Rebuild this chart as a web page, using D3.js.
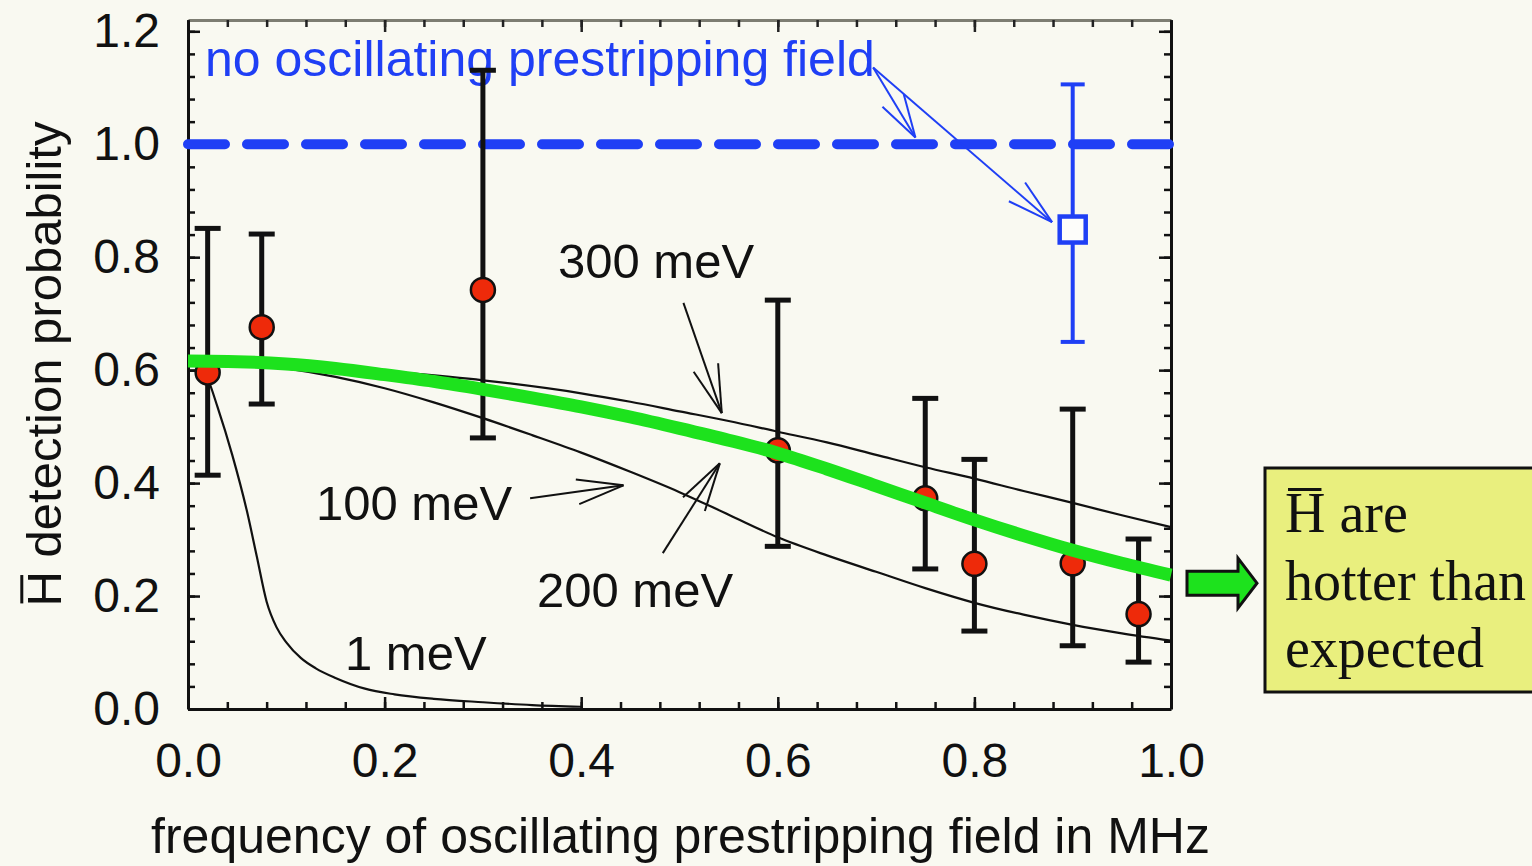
<!DOCTYPE html>
<html>
<head>
<meta charset="utf-8">
<script src="https://cdn.jsdelivr.net/npm/d3@7"></script>
<style>
  html, body { margin: 0; padding: 0; background: #f9f9f1; }
  svg { display: block; }
</style>
</head>
<body>
<svg id="chart" width="1532" height="866"></svg>
<script>
// ---- measured detection probability vs. prestripping frequency ----
const freqMHz  = [0.02, 0.075, 0.30, 0.60, 0.75, 0.80, 0.90, 0.967];
const prob     = [0.596, 0.676, 0.742, 0.458, 0.373, 0.257, 0.258, 0.168];
const probLow  = [0.414, 0.540, 0.480, 0.288, 0.248, 0.138, 0.112, 0.083];
const probHigh = [0.851, 0.841, 1.131, 0.724, 0.550, 0.442, 0.531, 0.301];

// ---- reference point without oscillating field ----
const refFreq = [0.90];
const refProb = [0.849];
const refLow  = [0.650];
const refHigh = [1.106];
const noFieldLevel = 1.0;

// ---- model curves for several antihydrogen energies ----
const x1meV = [0, 0.01, 0.02, 0.03, 0.045, 0.06, 0.07, 0.08, 0.09, 0.10, 0.115, 0.13, 0.15, 0.18, 0.21, 0.25, 0.30, 0.35, 0.40];
const y1meV = [0.615, 0.61, 0.585, 0.535, 0.45, 0.35, 0.27, 0.19, 0.145, 0.118, 0.09, 0.072, 0.055, 0.036, 0.026, 0.018, 0.012, 0.007, 0.004];

const x100meV = [0, 0.05, 0.10, 0.15, 0.20, 0.25, 0.30, 0.35, 0.40, 0.45, 0.50, 0.55, 0.60, 0.65, 0.70, 0.75, 0.80, 0.85, 0.90, 0.95, 1.0];
const y100meV = [0.616, 0.613, 0.603, 0.588, 0.568, 0.543, 0.515, 0.485, 0.454, 0.420, 0.384, 0.344, 0.304, 0.272, 0.243, 0.214, 0.188, 0.167, 0.149, 0.134, 0.121];

const x300meV = [0, 0.10, 0.20, 0.30, 0.40, 0.45, 0.50, 0.55, 0.60, 0.65, 0.70, 0.75, 0.80, 0.85, 0.90, 0.95, 1.0];
const y300meV = [0.616, 0.612, 0.598, 0.582, 0.559, 0.544, 0.527, 0.510, 0.491, 0.472, 0.450, 0.428, 0.408, 0.386, 0.365, 0.343, 0.322];

const x200meV = [0, 0.05, 0.10, 0.15, 0.20, 0.25, 0.30, 0.35, 0.40, 0.45, 0.50, 0.55, 0.60, 0.65, 0.70, 0.75, 0.80, 0.85, 0.90, 0.95, 1.0];
const y200meV = [0.616, 0.615, 0.611, 0.603, 0.592, 0.580, 0.566, 0.551, 0.535, 0.517, 0.497, 0.476, 0.453, 0.425, 0.395, 0.365, 0.335, 0.307, 0.281, 0.258, 0.237];

// ---- axis ticks ----
const xTicks = [0, 0.2, 0.4, 0.6, 0.8, 1.0];
const yTicks = [0, 0.2, 0.4, 0.6, 0.8, 1.0, 1.2];
const xMinor = d3.range(0, 1.0001, 0.04);
const yMinor = d3.range(0, 1.2201, 0.04);

const BLUE = "#1f3ff5";
const GREEN = "#1de21d";
const INK = "#111";
const SANS = "'Liberation Sans', Arial, sans-serif";
const SERIF = "'Liberation Serif', 'Times New Roman', serif";
const TICK_FS = 48, TITLE_FS = 50, LABEL_FS = 49;

const svg = d3.select("#chart");
const x = d3.scaleLinear().domain([0, 1]).range([188, 1171]);
const y = d3.scaleLinear().domain([0, 1.22]).range([709, 20]);

// ---- frame and ticks (all ticks point inward) ----
function styleAxis(g, color, width) {
  g.select(".domain").attr("stroke", color).attr("stroke-width", width);
  g.selectAll(".tick line").attr("stroke", INK).attr("stroke-width", 2.5);
  g.attr("font-family", SANS).attr("font-size", TICK_FS);
  g.selectAll("g").attr("font-family", SANS).attr("font-size", TICK_FS);
  g.selectAll(".tick text").attr("fill", INK);
}

const gTop = svg.append("g").attr("transform", `translate(0,${y(1.22)})`);
gTop.call(d3.axisTop(x).tickValues(xMinor).tickSize(-7).tickSizeOuter(0).tickFormat(""));
gTop.append("g").call(d3.axisTop(x).tickValues(xTicks).tickSize(-12).tickSizeOuter(0).tickFormat(""))
   .select(".domain").remove();
styleAxis(gTop, "#7d7d72", 3);
gTop.selectAll(".tick line").attr("stroke", "#222");

const gRight = svg.append("g").attr("transform", `translate(${x(1)},0)`);
gRight.call(d3.axisRight(y).tickValues(yMinor).tickSize(-7).tickSizeOuter(0).tickFormat(""));
gRight.append("g").call(d3.axisRight(y).tickValues(yTicks).tickSize(-12).tickSizeOuter(0).tickFormat(""))
     .select(".domain").remove();
styleAxis(gRight, INK, 3);

const gLeft = svg.append("g").attr("transform", `translate(${x(0)},0)`);
gLeft.call(d3.axisLeft(y).tickValues(yMinor).tickSize(-7).tickSizeOuter(0).tickFormat(""));
gLeft.append("g").call(d3.axisLeft(y).tickValues(yTicks).tickSize(-12).tickSizeOuter(0)
    .tickPadding(28).tickFormat(d3.format(".1f")))
    .select(".domain").remove();
styleAxis(gLeft, INK, 3);

const gBottom = svg.append("g").attr("transform", `translate(0,${y(0)})`);
gBottom.call(d3.axisBottom(x).tickValues(xMinor).tickSize(-7).tickSizeOuter(0).tickFormat(""));
gBottom.append("g").call(d3.axisBottom(x).tickValues(xTicks).tickSize(-12).tickSizeOuter(0)
    .tickPadding(34).tickFormat(d3.format(".1f")))
    .select(".domain").remove();
styleAxis(gBottom, INK, 3);

// ---- axis titles ----
svg.append("text")
  .attr("x", (x(0) + x(1)) / 2 + 1).attr("y", 853)
  .attr("text-anchor", "middle")
  .attr("font-family", SANS).attr("font-size", TITLE_FS).attr("fill", INK)
  .text("frequency of oscillating prestripping field in MHz");

const yTitleG = svg.append("g").attr("transform", "translate(61,364) rotate(-90)");
const yTitle = yTitleG.append("text")
  .attr("text-anchor", "middle")
  .attr("font-family", SANS).attr("font-size", LABEL_FS).attr("fill", INK)
  .text("H detection probability");
function overlineFirstChar(textSel, parent, gap, width) {
  const ext = textSel.node().getExtentOfChar(0);
  const capTop = ext.y + ext.height * 0.2;
  parent.append("line")
    .attr("x1", ext.x + 3).attr("x2", ext.x + ext.width - 4)
    .attr("y1", capTop - gap).attr("y2", capTop - gap)
    .attr("stroke", INK).attr("stroke-width", width);
}
overlineFirstChar(yTitle, yTitleG, 6, 3);

// ---- "no oscillating field" level ----
svg.append("line")
  .attr("x1", x(0)).attr("x2", x(1))
  .attr("y1", y(noFieldLevel)).attr("y2", y(noFieldLevel))
  .attr("stroke", BLUE).attr("stroke-width", 10)
  .attr("stroke-dasharray", "37,22").attr("stroke-linecap", "round");

svg.append("text")
  .attr("x", 205).attr("y", 76)
  .attr("font-family", SANS).attr("font-size", TITLE_FS).attr("fill", BLUE)
  .text("no oscillating prestripping field");

// ---- thin model curves ----
const line = d3.line().x(d => x(d[0])).y(d => y(d[1])).curve(d3.curveMonotoneX);
const zip = (xs, ys) => xs.map((v, i) => [v, ys[i]]);
[[x1meV, y1meV], [x100meV, y100meV], [x300meV, y300meV]].forEach(([xs, ys]) => {
  svg.append("path").datum(zip(xs, ys)).attr("d", line)
    .attr("fill", "none").attr("stroke", INK).attr("stroke-width", 2.2);
});

// ---- measured points with error bars ----
const pts = freqMHz.map((f, i) => ({ f, p: prob[i], lo: probLow[i], hi: probHigh[i] }));
const bars = svg.append("g").attr("stroke", INK).attr("stroke-width", 5);
pts.forEach(d => {
  bars.append("line").attr("x1", x(d.f)).attr("x2", x(d.f)).attr("y1", y(d.lo)).attr("y2", y(d.hi));
  bars.append("line").attr("x1", x(d.f) - 13).attr("x2", x(d.f) + 13).attr("y1", y(d.lo)).attr("y2", y(d.lo));
  bars.append("line").attr("x1", x(d.f) - 13).attr("x2", x(d.f) + 13).attr("y1", y(d.hi)).attr("y2", y(d.hi));
});
svg.append("g").selectAll("circle").data(pts).join("circle")
  .attr("cx", d => x(d.f)).attr("cy", d => y(d.p)).attr("r", 12)
  .attr("fill", "#ee2a0a").attr("stroke", INK).attr("stroke-width", 2.5);

// reference point (open square)
const refs = refFreq.map((f, i) => ({ f, p: refProb[i], lo: refLow[i], hi: refHigh[i] }));
const rbars = svg.append("g").attr("stroke", BLUE).attr("stroke-width", 4);
refs.forEach(d => {
  rbars.append("line").attr("x1", x(d.f)).attr("x2", x(d.f)).attr("y1", y(d.lo)).attr("y2", y(d.hi));
  rbars.append("line").attr("x1", x(d.f) - 12).attr("x2", x(d.f) + 12).attr("y1", y(d.lo)).attr("y2", y(d.lo));
  rbars.append("line").attr("x1", x(d.f) - 12).attr("x2", x(d.f) + 12).attr("y1", y(d.hi)).attr("y2", y(d.hi));
  svg.append("rect").attr("x", x(d.f) - 13).attr("y", y(d.p) - 13).attr("width", 26).attr("height", 26)
    .attr("fill", "#fdfdfa").attr("stroke", BLUE).attr("stroke-width", 4.5);
});

// ---- best-matching model (200 meV), drawn thick ----
svg.append("path").datum(zip(x200meV, y200meV)).attr("d", line)
  .attr("fill", "none").attr("stroke", GREEN).attr("stroke-width", 13);

// ---- labels and pointer arrows ----
function arrow(from, to, color, barb, spread) {
  const x0 = x(from[0]), y0 = y(from[1]), x1 = x(to[0]), y1 = y(to[1]);
  const ang = Math.atan2(y0 - y1, x0 - x1);
  const g = svg.append("g").attr("stroke", color).attr("stroke-width", 2).attr("fill", "none");
  g.append("line").attr("x1", x0).attr("y1", y0).attr("x2", x1).attr("y2", y1);
  [-spread, spread].forEach(s => {
    const a = ang + s * Math.PI / 180;
    g.append("line").attr("x1", x1).attr("y1", y1)
      .attr("x2", x1 + barb * Math.cos(a)).attr("y2", y1 + barb * Math.sin(a));
  });
}
arrow([0.697, 1.136], [0.740, 1.012], BLUE, 45, 16);
arrow([0.697, 1.136], [0.879, 0.862], BLUE, 48, 15);
arrow([0.504, 0.719], [0.543, 0.524], INK, 50, 15);
arrow([0.348, 0.373], [0.443, 0.396], INK, 48, 15);
arrow([0.483, 0.276], [0.541, 0.435], INK, 50, 15);

function label(txt, px, py) {
  svg.append("text").attr("x", px).attr("y", py)
    .attr("font-family", SANS).attr("font-size", LABEL_FS).attr("fill", INK).text(txt);
}
label("300 meV", 558, 278);
label("100 meV", 316, 520);
label("200 meV", 537, 607);
label("1 meV", 345, 670);

// ---- conclusion box ----
const BOX_FS = 56;
const bx = svg.append("g");
bx.append("rect").attr("x", 1265).attr("y", 468).attr("width", 300).attr("height", 224)
  .attr("fill", "#e9ef7e").attr("stroke", INK).attr("stroke-width", 3);
const l1 = bx.append("text").attr("x", 1285).attr("y", 532)
  .attr("font-family", SERIF).attr("font-size", BOX_FS).attr("fill", INK).text("H are");
overlineFirstChar(l1, bx, 5, 3);
bx.append("text").attr("x", 1285).attr("y", 600)
  .attr("font-family", SERIF).attr("font-size", BOX_FS).attr("fill", INK).text("hotter than");
bx.append("text").attr("x", 1285).attr("y", 667)
  .attr("font-family", SERIF).attr("font-size", BOX_FS).attr("fill", INK).text("expected");

// block arrow pointing from the curve end to the box
const ax = x(1) + 16, ay = y(y200meV[y200meV.length - 1]) + 8;
svg.append("path")
  .attr("d", `M${ax},${ay - 12}H${ax + 51}V${ay - 25}L${ax + 70},${ay}L${ax + 51},${ay + 25}V${ay + 12}H${ax}Z`)
  .attr("fill", GREEN).attr("stroke", INK).attr("stroke-width", 3).attr("stroke-linejoin", "miter");
</script>
</body>
</html>
